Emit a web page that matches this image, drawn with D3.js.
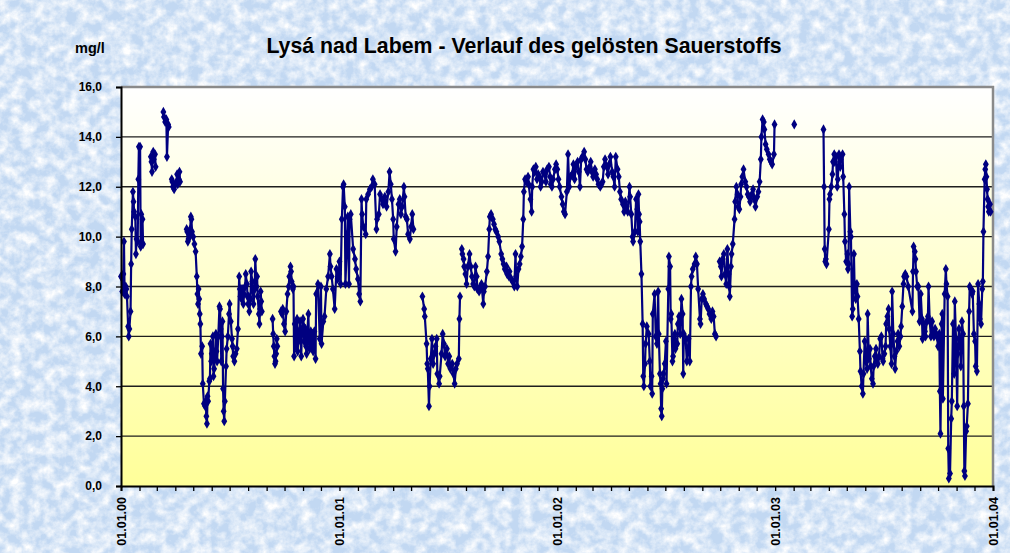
<!DOCTYPE html>
<html>
<head>
<meta charset="utf-8">
<script src="https://cdn.jsdelivr.net/npm/d3@7"></script>
<style>
  body { margin: 0; background: #d3e3f6; }
  svg { display: block; font-family: "Liberation Sans", Arial, sans-serif; }
</style>
</head>
<body>
<div id="chart"></div>
<script>
// Lysá nad Labem - gelöster Sauerstoff (mg/l), Tageswerte 2000-2003
// [MM-TT, Wert], null = Messlücke

var mess2000 = [
  ["01-01",8.4],["01-02",8.4],["01-03",7.8],["01-05",8.5],["01-06",9.8],["01-07",7.7],["01-09",8.0],["01-10",7.9],["01-11",7.6],["01-13",6.4],
  ["01-14",6.0],["01-15",6.3],["01-17",7.0],["01-18",8.9],["01-19",10.3],["01-21",11.8],["01-22",11.4],["01-23",11.0],["01-25",10.8],["01-26",9.3],
  ["01-27",9.9],["01-29",9.8],["01-30",12.3],["01-31",13.6],["02-02",13.6],["02-03",9.6],["02-04",10.9],["02-05",9.7],["02-06",10.7],["02-07",9.7],
  ["02-12",null],
  ["02-20",13.2],["02-21",13.0],["02-22",12.6],["02-24",13.4],["02-25",13.1],["02-27",13.3],["02-28",12.8],
  ["03-05",null],
  ["03-12",15.0],["03-13",14.8],["03-15",14.6],["03-17",14.7],["03-18",13.2],["03-20",14.5],["03-21",14.4],
  ["03-24",null],
  ["03-26",12.3],["03-27",12.2],["03-28",12.0],["03-30",11.9],["04-01",12.1],["04-03",12.2],["04-04",12.5],["04-05",12.1],["04-07",12.3],["04-08",12.6],["04-09",12.2],
  ["04-14",null],
  ["04-20",10.3],["04-21",10.2],["04-22",9.8],["04-23",9.9],["04-24",10.1],["04-25",10.0],["04-26",10.3],["04-27",10.8],["04-28",10.7],["04-29",10.2],
  ["05-01",10.0],["05-03",9.7],["05-05",9.4],["05-07",8.4],["05-08",7.7],["05-09",7.3],["05-10",7.9],["05-11",7.5],["05-12",6.9],["05-13",6.5],
  ["05-14",5.3],["05-16",5.6],["05-17",4.1],["05-19",3.3],["05-21",3.2],["05-22",3.4],["05-23",2.8],["05-24",2.5],["05-25",3.6],["05-26",3.4],
  ["05-28",4.2],["05-29",4.3],["05-30",5.7],["05-31",5.0],["06-01",5.3],["06-03",6.0],["06-04",4.4],["06-05",4.7],["06-07",5.4],["06-08",6.1],
  ["06-09",5.4],["06-10",5.0],["06-12",6.0],["06-14",7.2],["06-15",7.1],["06-16",6.3],["06-17",5.0],["06-18",6.0],["06-19",6.6],["06-20",3.9],
  ["06-21",3.0],["06-22",2.6],["06-23",3.4],["06-25",4.8],["06-26",5.5],["06-28",6.0],["06-30",6.9],["07-01",7.3],["07-03",6.6],["07-05",5.9],
  ["07-06",5.6],["07-07",5.2],["07-09",5.0],["07-11",5.3],["07-13",5.5],["07-15",6.3],["07-17",8.4],["07-18",7.9],["07-19",7.6],["07-20",7.9],
  ["07-21",7.5],["07-22",7.9],["07-24",7.3],["07-25",7.7],["07-27",8.0],["07-28",8.5],["07-30",8.1],["07-31",7.6],["08-01",7.3],["08-02",7.6],
  ["08-03",7.0],["08-05",7.5],["08-06",8.6],["08-08",8.2],["08-09",7.8],["08-10",7.3],["08-12",7.9],["08-13",9.1],["08-15",8.0],["08-16",8.4],
  ["08-17",7.6],["08-19",6.9],["08-20",6.5],["08-21",7.1],["08-22",7.8],["08-23",7.4],["08-24",7.0],
  ["08-30",null],
  ["09-11",6.7],["09-12",6.1],["09-13",5.6],["09-14",5.2],["09-15",4.9],["09-16",5.0],["09-17",5.3],["09-18",5.9],["09-19",5.6],
  ["09-22",null],
  ["09-25",7.0],["09-27",6.9],["09-28",7.1],["09-30",6.5],["10-02",6.2],["10-04",7.0],["10-06",7.7],["10-08",8.0],["10-09",8.4],["10-11",8.8],
  ["10-12",8.6],["10-13",8.2],["10-15",7.9],["10-16",8.0],["10-17",5.2],["10-18",6.5],["10-19",6.0],["10-20",5.6],["10-21",6.3],["10-22",6.7],
  ["10-23",5.4],["10-24",5.9],["10-26",6.2],["10-27",6.6],["10-28",5.8],["10-29",5.2],["10-30",6.1],["11-01",6.7],["11-02",6.4],["11-03",5.8],
  ["11-05",6.3],["11-06",5.6],["11-07",5.3],["11-08",6.1],["11-10",6.9],["11-11",5.8],["11-12",5.5],["11-14",6.2],["11-15",5.7],["11-17",6.1],
  ["11-18",5.4],["11-20",6.2],["11-22",5.1],["11-23",7.7],["11-26",8.1],["11-29",5.9],["12-01",8.0],["12-02",5.7],["12-05",6.6],["12-07",6.8],
  ["12-10",7.9],["12-13",8.4],["12-16",9.3],["12-17",8.8],["12-19",8.4],["12-21",7.9],["12-24",7.1],["12-27",8.7],["12-29",8.3],["12-31",8.5]
];

var mess2001 = [
  ["01-01",9.0],["01-03",8.1],["01-05",10.7],["01-07",12.0],["01-08",12.1],["01-10",11.2],["01-11",8.1],["01-14",10.1],["01-15",10.8],["01-17",8.1],
  ["01-18",10.7],["01-20",10.9],["01-24",9.5],["01-27",9.1],["01-29",8.7],["02-01",8.3],["02-03",7.7],["02-05",7.4],["02-07",11.5],["02-08",10.9],
  ["02-10",10.4],["02-14",10.1],["02-15",11.5],["02-18",11.7],["02-21",11.9],["02-24",12.0],["02-26",12.3],["03-01",12.1],["03-04",10.3],["03-05",10.7],
  ["03-08",10.9],["03-10",11.7],["03-13",11.5],["03-15",11.3],["03-18",11.6],["03-21",11.2],["03-24",11.8],["03-26",12.6],["03-28",12.1],["03-30",11.5],
  ["04-01",10.7],["04-02",9.9],["04-05",9.4],["04-07",10.4],["04-10",11.3],["04-12",11.5],["04-14",10.9],["04-16",11.2],["04-19",12.0],["04-20",11.6],
  ["04-22",10.8],["04-24",10.7],["04-26",10.1],["04-29",9.9],["05-01",10.4],["05-03",10.9],["05-05",10.3],
  ["05-12",null],
  ["05-20",7.6],["05-23",7.1],["05-24",6.8],["05-27",5.7],["05-28",4.9],["05-29",4.7],["05-31",3.2],["06-01",4.0],["06-03",5.1],["06-05",5.9],
  ["06-07",4.9],["06-09",5.3],["06-11",5.6],["06-13",5.9],["06-14",4.5],["06-17",4.1],["06-18",4.4],["06-21",5.3],["06-23",6.1],["06-25",5.7],
  ["06-27",5.2],["06-30",5.5],["07-02",4.9],["07-04",5.2],["07-06",4.7],["07-09",4.9],["07-11",4.5],["07-13",4.1],["07-15",4.7],["07-17",4.9],
  ["07-20",5.1],["07-21",6.7],["07-22",7.6],
  ["07-23",null],
  ["07-25",9.5],["07-26",9.3],["07-28",9.1],["07-29",8.8],["07-31",8.5],["08-02",8.1],["08-04",8.8],["08-07",9.3],["08-09",8.8],["08-11",8.4],
  ["08-13",8.1],["08-15",8.0],["08-17",8.8],["08-19",8.4],["08-20",7.9],["08-23",7.8],["08-25",8.0],["08-27",8.1],["08-30",7.3],["08-31",7.8],
  ["09-02",8.0],["09-05",8.6],["09-07",9.2],["09-09",10.3],["09-10",10.8],["09-12",10.9],["09-15",10.7],["09-17",10.5],["09-19",10.3],["09-21",10.2],
  ["09-24",10.0],["09-26",9.8],["09-29",9.3],["10-01",9.1],["10-03",8.9],["10-05",8.7],["10-08",8.8],["10-09",8.5],["10-12",8.4],["10-13",8.6],
  ["10-16",8.3],["10-18",8.2],["10-21",8.0],["10-23",9.3],["10-24",8.4],["10-26",8.0],["10-28",8.7],["10-30",8.9],["11-01",9.2],["11-03",9.6],
  ["11-05",10.7],["11-06",11.8],["11-08",12.3],["11-10",12.2],["11-13",12.4],["11-14",12.1],["11-17",11.5],["11-19",11.0],["11-20",12.0],["11-22",12.7],
  ["11-24",12.6],["11-26",12.8],["11-28",12.3],["11-30",12.5],["12-02",12.4],["12-04",12.0],["12-06",12.2],["12-08",12.6],["12-11",12.5],["12-13",12.2],
  ["12-15",12.7],["12-18",12.8],["12-20",12.4],["12-21",12.1],["12-23",12.0],["12-25",12.3],["12-28",12.7],["12-30",12.9]
];

var mess2002 = [
  ["01-01",12.7],["01-03",12.3],["01-05",12.0],["01-08",11.6],["01-10",11.3],["01-12",11.0],["01-14",10.9],["01-17",11.8],["01-19",13.3],["01-21",12.0],
  ["01-23",12.4],["01-26",12.5],["01-28",12.9],["01-30",12.3],["02-01",12.8],["02-04",13.0],["02-06",12.6],["02-08",12.0],["02-10",13.1],["02-12",13.2],
  ["02-15",13.4],["02-17",13.1],["02-19",12.7],["02-21",12.6],["02-24",12.8],["02-26",13.0],["02-28",12.6],["03-02",12.4],["03-05",12.7],["03-07",12.5],
  ["03-09",12.3],["03-11",12.1],["03-14",12.0],["03-16",12.1],["03-18",12.2],["03-20",12.8],["03-22",13.1],["03-25",12.8],["03-27",12.5],["03-29",12.9],
  ["03-31",13.2],["04-03",12.6],["04-05",12.4],["04-07",12.0],["04-09",13.2],["04-12",12.7],["04-14",12.4],["04-16",11.8],["04-18",11.5],["04-21",11.3],
  ["04-23",11.0],["04-25",11.4],["04-27",11.2],["04-29",11.0],["05-02",12.0],["05-03",11.6],["05-05",10.9],["05-07",10.0],["05-08",9.8],["05-11",10.2],
  ["05-13",11.5],["05-15",11.1],["05-16",10.2],["05-17",11.7],["05-18",10.9],["05-19",10.6],["05-20",9.8],["05-22",8.5],["05-24",6.5],["05-25",4.4],
  ["05-26",4.0],["05-28",4.9],["05-29",5.7],["05-31",6.4],["06-03",6.1],["06-05",5.0],["06-06",4.0],["06-08",4.4],["06-09",3.7],["06-10",6.9],
  ["06-13",7.7],["06-15",6.0],["06-17",5.7],["06-19",7.8],["06-20",6.1],["06-22",4.5],["06-23",4.1],["06-24",3.1],["06-25",2.8],["06-26",3.9],
  ["06-27",4.3],["06-28",4.5],["06-30",4.9],["07-02",5.8],["07-03",4.1],["07-06",7.9],["07-07",9.2],["07-09",8.8],["07-10",6.7],["07-11",6.9],
  ["07-13",5.0],["07-14",5.2],["07-16",5.9],["07-17",6.1],["07-18",5.5],["07-21",5.7],["07-22",6.5],["07-24",6.8],["07-26",6.1],["07-28",7.5],
  ["07-30",6.9],["07-31",4.5],["08-01",6.1],["08-04",5.9],["08-06",5.0],["08-09",5.9],["08-11",5.0],["08-13",8.0],["08-14",8.4],["08-16",8.7],
  ["08-19",8.9],["08-21",9.2],["08-23",8.9],["08-25",7.9],["08-28",6.7],["08-29",6.5],["08-31",7.5],["09-02",7.7],["09-04",7.5],["09-07",7.3],
  ["09-09",7.2],["09-11",7.1],["09-13",6.9],["09-16",6.7],["09-18",7.0],["09-20",6.8],["09-22",6.1],["09-24",6.0],
  ["09-27",null],
  ["09-30",9.0],["10-02",8.8],["10-03",8.4],["10-05",9.1],["10-07",9.3],["10-09",8.5],["10-11",8.1],["10-13",9.5],["10-15",8.5],["10-16",8.0],
  ["10-17",7.6],["10-19",8.8],["10-20",9.3],["10-22",9.7],["10-25",10.7],["10-26",11.4],["10-28",12.0],["10-30",11.7],["10-31",11.2],["11-02",11.1],
  ["11-04",11.6],["11-05",12.1],["11-07",12.4],["11-09",12.7],["11-12",12.2],["11-14",12.0],["11-16",11.7],["11-18",11.6],["11-20",11.4],["11-23",11.7],
  ["11-25",11.9],["11-27",11.5],["11-29",11.2],["12-02",11.6],["12-04",11.8],["12-06",12.2],["12-08",13.1],["12-09",14.0],["12-11",14.7],["12-13",14.6],
  ["12-14",14.3],["12-16",13.7],["12-18",13.5],["12-21",13.3],["12-23",13.1],["12-25",13.0],["12-27",12.9],["12-30",13.3],["12-31",14.5]
];

var mess2003 = [
  ["01-10",null],
  ["02-02",14.5],
  ["02-20",null],
  ["03-23",14.3],["03-24",12.0],["03-25",9.5],["03-26",9.0],["03-27",9.1],["03-28",8.9],["04-01",10.3],["04-02",11.5],["04-03",11.7],["04-05",12.0],
  ["04-07",12.5],["04-08",13.0],["04-10",13.3],["04-11",13.0],["04-13",13.2],["04-15",12.0],["04-16",12.3],["04-18",13.3],["04-20",12.8],["04-21",13.1],
  ["04-24",13.3],["04-25",12.4],["04-27",10.9],["04-28",9.8],["04-30",9.0],["05-02",9.3],["05-03",8.7],["05-04",8.9],["05-05",12.0],["05-07",10.2],
  ["05-08",10.0],["05-10",6.8],["05-11",7.1],["05-13",9.3],["05-14",8.1],["05-16",7.5],["05-18",8.1],["05-19",7.6],["05-21",6.7],["05-23",5.4],
  ["05-24",4.6],["05-26",4.0],["05-28",3.7],["05-29",4.5],["05-31",5.8],["06-02",5.0],["06-04",4.7],["06-05",6.9],["06-07",5.1],["06-09",5.5],
  ["06-10",4.8],["06-12",4.3],["06-14",4.1],["06-15",4.8],["06-17",5.2],["06-19",5.5],["06-20",5.0],["06-22",4.9],["06-24",5.2],["06-26",5.9],
  ["06-28",6.0],["06-30",5.1],["07-01",5.0],["07-03",5.3],["07-05",5.6],["07-06",6.5],["07-08",6.8],["07-10",7.1],["07-11",6.3],["07-13",5.6],
  ["07-15",4.9],["07-16",7.8],["07-18",6.1],["07-20",5.2],["07-21",4.7],["07-23",5.4],["07-25",5.8],["07-26",6.1],["07-28",5.6],["07-30",6.0],
  ["07-31",6.4],["08-02",7.2],["08-04",8.1],["08-05",8.4],["08-07",8.5],["08-09",8.4],["08-12",8.0],["08-19",7.0],["08-20",8.6],["08-21",9.6],
  ["08-23",9.4],["08-24",9.1],["08-25",8.6],["08-27",8.0],["08-29",8.0],["08-31",6.6],["09-02",7.7],["09-04",6.7],["09-05",5.9],["09-07",6.5],
  ["09-09",6.2],["09-10",6.0],["09-12",6.6],["09-14",6.8],["09-15",8.0],["09-17",6.6],["09-19",6.0],["09-21",6.6],["09-22",6.2],["09-24",6.0],
  ["09-26",6.3],["09-28",6.1],["09-29",6.0],["10-01",5.6],["10-03",6.1],["10-04",3.8],["10-05",2.1],["10-07",6.5],["10-08",6.9],["10-09",3.5],
  ["10-12",7.7],["10-14",8.7],["10-15",8.1],["10-17",7.6],["10-18",1.5],["10-19",0.3],["10-21",0.5],["10-23",2.7],["10-24",3.4],["10-26",6.5],
  ["10-28",4.5],["10-29",7.4],["10-31",5.9],["11-02",3.2],["11-03",5.3],["11-05",6.3],["11-07",5.6],["11-08",4.8],["11-10",6.6],["11-12",6.1],
  ["11-13",3.2],["11-14",0.6],["11-15",0.4],["11-17",2.2],["11-18",2.4],["11-20",3.3],["11-22",7.0],["11-23",8.0],["11-25",7.9],["11-27",7.7],
  ["11-28",7.8],["11-30",6.1],["12-02",5.8],["12-03",4.8],["12-05",4.6],["12-07",8.1],["12-09",7.3],["12-10",6.7],["12-12",6.5],["12-14",7.9],
  ["12-15",8.2],["12-16",10.2],["12-18",12.3],["12-19",12.7],["12-20",12.9],["12-21",12.4],["12-22",11.9],["12-23",11.5],["12-24",11.2],["12-25",11.0],
  ["12-27",11.3],["12-28",11.0]
];

var yTicks = [0, 2, 4, 6, 8, 10, 12, 14, 16];
var xTickLabels = ["01.01.00", "01.01.01", "01.01.02", "01.01.03", "01.01.04"];
var titel = "Lysá nad Labem - Verlauf des gelösten Sauerstoffs";
var einheit = "mg/l";

var W = 1010, H = 553;
var plot = {left: 121, right: 993, top: 87, bottom: 486};

var parseDay = d3.utcParse("%Y-%m-%d");
var parseLabel = d3.utcParse("%d.%m.%y");

function toRows(year, arr) {
    return arr.map(function (d) { return {date: parseDay(year + "-" + d[0]), v: d[1]}; });
}
var data = [].concat(
    toRows(2000, mess2000), toRows(2001, mess2001),
    toRows(2002, mess2002), toRows(2003, mess2003)
);

var x = d3.scaleUtc()
    .domain([parseLabel(xTickLabels[0]), parseLabel(xTickLabels[xTickLabels.length - 1])])
    .range([plot.left, plot.right]);
var y = d3.scaleLinear().domain([0, 16]).range([plot.bottom, plot.top]);

var svg = d3.select("#chart").append("svg").attr("width", W).attr("height", H);
var defs = svg.append("defs");

// blauer "Papier"-Hintergrund
var paper = defs.append("filter").attr("id", "paper")
    .attr("x", 0).attr("y", 0).attr("width", "100%").attr("height", "100%");
paper.append("feTurbulence").attr("type", "fractalNoise")
    .attr("baseFrequency", "0.09").attr("numOctaves", 4).attr("seed", 11);
paper.append("feColorMatrix").attr("type", "matrix")
    .attr("values", "0 0 0 0 1  0 0 0 0 1  0 0 0 0 1  1.9 0 0 0 -0.6");

var grad = defs.append("linearGradient").attr("id", "plotbg")
    .attr("x1", 0).attr("y1", 0).attr("x2", 0).attr("y2", 1);
grad.append("stop").attr("offset", "0%").attr("stop-color", "#ffffff");
grad.append("stop").attr("offset", "100%").attr("stop-color", "#ffff99");

svg.append("rect").attr("width", W).attr("height", H).attr("fill", "#c2d8f2");
svg.append("rect").attr("width", W).attr("height", H).attr("filter", "url(#paper)");

// Plotfläche
svg.append("rect")
    .attr("x", plot.left).attr("y", plot.top)
    .attr("width", plot.right - plot.left).attr("height", plot.bottom - plot.top)
    .attr("fill", "url(#plotbg)");

// Gitterlinien
svg.append("g").selectAll("line")
    .data(yTicks.filter(function (t) { return t > 0 && t < 16; }))
    .enter().append("line")
    .attr("x1", plot.left).attr("x2", plot.right)
    .attr("y1", function (d) { return y(d); }).attr("y2", function (d) { return y(d); })
    .attr("stroke", "#1e1e1e").attr("stroke-width", 1.3);

// Rahmen oben / rechts
svg.append("path")
    .attr("d", "M" + plot.left + "," + plot.top + "H" + plot.right + "V" + plot.bottom)
    .attr("fill", "none").attr("stroke", "#8a8a8a").attr("stroke-width", 2.5);

// Messreihe
var line = d3.line()
    .defined(function (d) { return d.v != null; })
    .x(function (d) { return x(d.date); })
    .y(function (d) { return y(d.v); });

svg.append("path").datum(data)
    .attr("d", line)
    .attr("fill", "none").attr("stroke", "#000080").attr("stroke-width", 2.2)
    .attr("stroke-linejoin", "round");

var diamond = d3.symbol().type(d3.symbolDiamond).size(30);
svg.append("g").selectAll("path")
    .data(data.filter(function (d) { return d.v != null; }))
    .enter().append("path")
    .attr("d", diamond)
    .attr("transform", function (d) { return "translate(" + x(d.date) + "," + y(d.v) + ")"; })
    .attr("fill", "#000080");

// Achsen
var yAxis = d3.axisLeft(y).tickValues(yTicks).tickSize(5).tickPadding(14)
    .tickFormat(function (d) { return d.toFixed(1).replace(".", ","); });
var gy = svg.append("g").attr("transform", "translate(" + plot.left + ",0)").call(yAxis);
gy.select(".domain").attr("stroke", "#000").attr("stroke-width", 2);
gy.selectAll(".tick line").attr("stroke", "#000").attr("stroke-width", 1.3);
gy.selectAll("text").attr("font-size", 12).attr("font-weight", "bold").attr("fill", "#000")
    .attr("font-family", "Liberation Sans, Arial, sans-serif");

var xAxis = d3.axisBottom(x).ticks(d3.utcMonth.every(1)).tickSize(5).tickFormat("");
var gx = svg.append("g").attr("transform", "translate(0," + plot.bottom + ")").call(xAxis);
gx.select(".domain").attr("stroke", "#000").attr("stroke-width", 2);
gx.selectAll(".tick line").attr("stroke", "#000").attr("stroke-width", 1.3);

svg.append("g").selectAll("text")
    .data(xTickLabels)
    .enter().append("text")
    .attr("transform", function (d) { return "translate(" + x(parseLabel(d)) + ",497) rotate(-90)"; })
    .attr("dy", "0.36em")
    .attr("text-anchor", "end")
    .attr("font-size", 12.5).attr("font-weight", "bold")
    .text(function (d) { return d; });

// Titel
svg.append("text")
    .attr("x", 524).attr("y", 53)
    .attr("text-anchor", "middle")
    .attr("font-size", 21.3).attr("font-weight", "bold")
    .text(titel);

svg.append("text")
    .attr("x", 75).attr("y", 53)
    .attr("font-size", 14.5).attr("font-weight", "bold")
    .text(einheit);
</script>
</body>
</html>
